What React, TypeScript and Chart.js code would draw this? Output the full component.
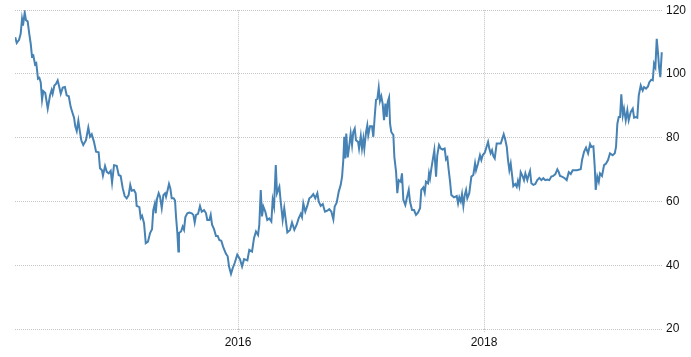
import React, { useEffect, useRef } from "react";
import { Chart, registerables } from "chart.js";

Chart.register(...registerables);

// Time in decimal years
const dates: number[] = [
  2014.189, 2014.201, 2014.220, 2014.233, 2014.244, 2014.252, 2014.266, 2014.276, 2014.290, 2014.303,
  2014.315, 2014.325, 2014.336, 2014.350, 2014.360, 2014.374, 2014.385, 2014.396, 2014.407, 2014.417,
  2014.433, 2014.453, 2014.472, 2014.485, 2014.493, 2014.507, 2014.520, 2014.534, 2014.547, 2014.559,
  2014.575, 2014.593, 2014.607, 2014.624, 2014.640, 2014.656, 2014.667, 2014.677, 2014.689, 2014.702,
  2014.715, 2014.726, 2014.742, 2014.764, 2014.783, 2014.797, 2014.811, 2014.829, 2014.846, 2014.867,
  2014.878, 2014.894, 2014.902, 2014.919, 2014.933, 2014.949, 2014.965, 2014.976, 2014.992, 2015.014,
  2015.030, 2015.046, 2015.063, 2015.079, 2015.095, 2015.111, 2015.124, 2015.136, 2015.154, 2015.168,
  2015.176, 2015.198, 2015.209, 2015.220, 2015.236, 2015.250, 2015.268, 2015.285, 2015.301, 2015.311,
  2015.323, 2015.331, 2015.341, 2015.355, 2015.366, 2015.380, 2015.393, 2015.407, 2015.415, 2015.428,
  2015.439, 2015.450, 2015.461, 2015.477, 2015.488, 2015.496, 2015.507, 2015.515, 2015.520, 2015.537,
  2015.550, 2015.561, 2015.572, 2015.588, 2015.604, 2015.624, 2015.637, 2015.648, 2015.659, 2015.675,
  2015.691, 2015.705, 2015.724, 2015.740, 2015.750, 2015.767, 2015.778, 2015.789, 2015.805, 2015.821,
  2015.835, 2015.848, 2015.864, 2015.880, 2015.902, 2015.916, 2015.927, 2015.943, 2015.957, 2015.973,
  2015.994, 2016.016, 2016.033, 2016.049, 2016.076, 2016.092, 2016.114, 2016.130, 2016.146, 2016.163,
  2016.173, 2016.185, 2016.195, 2016.206, 2016.222, 2016.238, 2016.254, 2016.271, 2016.282, 2016.293,
  2016.307, 2016.317, 2016.336, 2016.347, 2016.363, 2016.376, 2016.401, 2016.423, 2016.439, 2016.458,
  2016.477, 2016.493, 2016.510, 2016.520, 2016.531, 2016.547, 2016.563, 2016.580, 2016.596, 2016.612,
  2016.628, 2016.645, 2016.656, 2016.672, 2016.689, 2016.707, 2016.726, 2016.742, 2016.759, 2016.775,
  2016.786, 2016.802, 2016.819, 2016.835, 2016.846, 2016.856, 2016.864, 2016.872, 2016.880, 2016.892,
  2016.905, 2016.916, 2016.927, 2016.937, 2016.949, 2016.959, 2016.976, 2016.984, 2016.998, 2017.008,
  2017.019, 2017.027, 2017.041, 2017.051, 2017.059, 2017.073, 2017.089, 2017.100, 2017.111, 2017.122,
  2017.133, 2017.144, 2017.154, 2017.165, 2017.176, 2017.187, 2017.198, 2017.209, 2017.217, 2017.228,
  2017.236, 2017.246, 2017.263, 2017.271, 2017.285, 2017.295, 2017.307, 2017.323, 2017.333, 2017.344,
  2017.360, 2017.372, 2017.388, 2017.398, 2017.415, 2017.431, 2017.447, 2017.463, 2017.480, 2017.490,
  2017.507, 2017.518, 2017.528, 2017.545, 2017.553, 2017.561, 2017.572, 2017.583, 2017.596, 2017.610,
  2017.620, 2017.634, 2017.648, 2017.664, 2017.680, 2017.691, 2017.702, 2017.713, 2017.724, 2017.734,
  2017.756, 2017.778, 2017.789, 2017.799, 2017.811, 2017.821, 2017.832, 2017.843, 2017.854, 2017.864,
  2017.880, 2017.897, 2017.913, 2017.927, 2017.935, 2017.951, 2017.967, 2017.978, 2017.989, 2018.006,
  2018.022, 2018.033, 2018.043, 2018.054, 2018.065, 2018.076, 2018.087, 2018.103, 2018.136, 2018.149,
  2018.160, 2018.171, 2018.185, 2018.195, 2018.206, 2018.217, 2018.228, 2018.238, 2018.254, 2018.266,
  2018.276, 2018.287, 2018.298, 2018.315, 2018.325, 2018.336, 2018.352, 2018.363, 2018.374, 2018.385,
  2018.401, 2018.417, 2018.433, 2018.450, 2018.466, 2018.482, 2018.498, 2018.515, 2018.531, 2018.547,
  2018.563, 2018.580, 2018.596, 2018.607, 2018.618, 2018.634, 2018.656, 2018.672, 2018.689, 2018.705,
  2018.721, 2018.754, 2018.786, 2018.797, 2018.813, 2018.829, 2018.846, 2018.862, 2018.872, 2018.889,
  2018.900, 2018.908, 2018.921, 2018.933, 2018.943, 2018.959, 2018.976, 2018.992, 2019.008, 2019.024,
  2019.046, 2019.063, 2019.073, 2019.084, 2019.095, 2019.106, 2019.116, 2019.128, 2019.138, 2019.152,
  2019.165, 2019.176, 2019.193, 2019.209, 2019.220, 2019.236, 2019.246, 2019.258, 2019.274, 2019.290,
  2019.301, 2019.317, 2019.333, 2019.344, 2019.360, 2019.372, 2019.382, 2019.393, 2019.404, 2019.415,
  2019.423, 2019.433, 2019.445,
];

const values: number[] = [
  111.5, 109.7, 110.7, 112.6, 117.2, 115.2, 119.3, 116.9, 116.5, 112.6,
  109.4, 105.5, 105.8, 103.0, 103.4, 98.5, 98.8, 97.4, 91.9, 94.6,
  94.0, 89.1, 93.3, 95.0, 93.8, 96.4, 96.9, 98.0, 95.9, 93.8,
  95.7, 95.9, 93.3, 93.0, 89.6, 87.6, 86.3, 83.6, 82.1, 85.3,
  81.8, 79.2, 77.7, 79.2, 83.2, 80.3, 81.1, 78.7, 75.6, 75.4,
  70.4, 69.8, 68.1, 71.1, 69.3, 68.8, 69.6, 65.9, 71.4, 71.2,
  68.3, 68.0, 64.1, 61.7, 61.0, 62.0, 65.2, 63.4, 63.6, 62.6,
  58.6, 58.2, 54.8, 55.5, 53.2, 46.9, 47.4, 50.1, 51.3, 57.3,
  59.2, 56.3, 60.7, 62.6, 61.5, 57.9, 62.0, 62.6, 61.5, 63.6,
  65.5, 64.1, 61.0, 61.0, 60.3, 55.3, 50.1, 44.3, 50.1, 50.6,
  52.1, 51.1, 55.1, 56.3, 56.5, 56.3, 55.8, 53.4, 55.8, 56.1,
  58.6, 56.8, 57.3, 56.3, 54.2, 54.2, 55.8, 52.7, 51.3, 49.2,
  49.2, 47.9, 47.7, 45.7, 43.6, 42.8, 39.6, 37.3, 39.1, 40.7,
  43.3, 41.9, 39.6, 41.9, 41.5, 44.8, 44.3, 48.5, 50.6, 49.5,
  52.7, 63.6, 55.3, 58.4, 56.8, 54.2, 54.7, 53.7, 60.5, 58.4,
  71.4, 62.6, 64.6, 60.0, 54.2, 57.9, 50.3, 51.1, 53.4, 51.1,
  52.7, 54.7, 56.1, 55.1, 59.4, 56.8, 58.6, 61.0, 61.5, 62.3,
  61.0, 62.6, 60.0, 58.6, 59.2, 56.8, 57.1, 57.6, 56.8, 54.4,
  58.4, 59.6, 63.1, 65.2, 67.8, 73.0, 80.3, 73.5, 81.3, 73.8,
  77.7, 81.3, 77.7, 81.8, 82.9, 79.2, 78.7, 76.6, 80.5, 76.6,
  79.7, 76.6, 81.8, 83.9, 80.8, 83.6, 83.6, 80.3, 86.5, 91.9,
  92.2, 95.7, 91.5, 93.0, 90.7, 85.5, 90.7, 86.5, 91.2, 92.6,
  84.4, 81.8, 80.8, 74.0, 69.3, 62.6, 66.7, 66.2, 68.8, 60.5,
  58.9, 61.0, 63.6, 60.0, 57.3, 57.3, 55.8, 56.5, 57.9, 63.6,
  64.4, 62.8, 66.2, 65.7, 68.8, 67.3, 70.4, 73.0, 76.1, 67.8,
  74.5, 77.7, 76.6, 76.3, 76.6, 73.2, 73.8, 69.8, 66.2, 62.0,
  61.3, 61.7, 59.4, 61.3, 60.0, 62.3, 58.6, 62.0, 63.6, 61.0,
  62.6, 67.8, 68.3, 71.9, 69.8, 71.9, 74.5, 73.0, 74.5, 75.3,
  77.3, 78.7, 76.6, 75.1, 76.1, 74.2, 73.5, 78.2, 78.2, 79.7,
  81.1, 79.7, 77.1, 73.0, 69.8, 71.9, 68.3, 64.8, 65.5, 64.6,
  66.5, 64.8, 69.2, 67.8, 66.7, 68.8, 66.7, 68.3, 69.6, 65.7,
  65.2, 65.5, 66.7, 67.4, 66.7, 67.3, 66.7, 66.9, 66.7, 67.8,
  68.0, 68.6, 70.1, 69.3, 68.0, 67.8, 67.3, 66.7, 69.2, 68.6,
  69.8, 69.8, 70.1, 73.0, 75.6, 76.9, 75.1, 78.0, 77.1, 77.3,
  70.9, 63.6, 67.8, 66.2, 68.8, 68.0, 71.4, 71.9, 73.0, 75.1,
  74.5, 75.1, 77.1, 84.4, 86.5, 86.5, 93.6, 87.0, 89.1, 85.5,
  88.6, 85.5, 88.1, 89.1, 86.3, 86.5, 86.3, 93.3, 96.4, 94.8,
  95.9, 95.4, 96.1, 97.4, 98.2, 98.0, 103.2, 102.1, 111.0, 106.3,
  102.1, 99.0, 106.8,
];

const xTickYears: number[] = [2016, 2018];
const yTicks: number[] = [20, 40, 60, 80, 100, 120];

export default function App() {
  const ref = useRef<HTMLCanvasElement | null>(null);

  useEffect(() => {
    document.body.style.margin = "0";
    const canvas = ref.current;
    if (!canvas) return;
    const points = dates.map((d, i) => ({ x: d, y: values[i] }));
    const gridColor = "#c4c4c4";
    const font = { family: "'Liberation Sans', Arial, sans-serif", size: 12 };
    const chart = new Chart(canvas, {
      type: "line",
      data: {
        datasets: [
          {
            data: points,
            borderColor: "#4682b4",
            borderWidth: 2,
            pointRadius: 0,
            tension: 0,
            fill: false,
          },
        ],
      },
      options: {
        responsive: false,
        animation: false,
        layout: { padding: { left: 15, top: 9, right: 0, bottom: 0 } },
        plugins: { legend: { display: false }, tooltip: { enabled: false } },
        scales: {
          x: {
            type: "linear",
            min: 2014.187,
            max: 2019.455,
            afterBuildTicks: (scale: any) => {
              scale.ticks = xTickYears.map((v) => ({ value: v }));
            },
            afterFit: (scale: any) => {
              scale.height = 28;
            },
            border: { display: false, dash: [1, 1] },
            grid: {
              color: gridColor,
              lineWidth: 1,
              drawTicks: true,
              tickLength: 4,
              tickBorderDash: [1, 1],
              tickColor: gridColor,
            },
            ticks: {
              color: "#111",
              font,
              padding: 2,
              maxRotation: 0,
              autoSkip: false,
              callback: (v: any) => String(v),
            },
          },
          y: {
            position: "right",
            min: 20,
            max: 120,
            afterBuildTicks: (scale: any) => {
              scale.ticks = yTicks.map((v) => ({ value: v }));
            },
            afterFit: (scale: any) => {
              scale.width = 28;
            },
            border: { display: false, dash: [1, 1] },
            grid: {
              color: gridColor,
              lineWidth: 1,
              drawTicks: false,
            },
            ticks: {
              color: "#111",
              font,
              padding: 3,
              callback: (v: any) => String(v),
            },
          },
        },
      } as any,
    });
    return () => chart.destroy();
  }, []);

  return (
    <div style={{ position: "absolute", left: 0, top: 0, width: 691, height: 357 }}>
      <canvas ref={ref} width={691} height={357} />
    </div>
  );
}
